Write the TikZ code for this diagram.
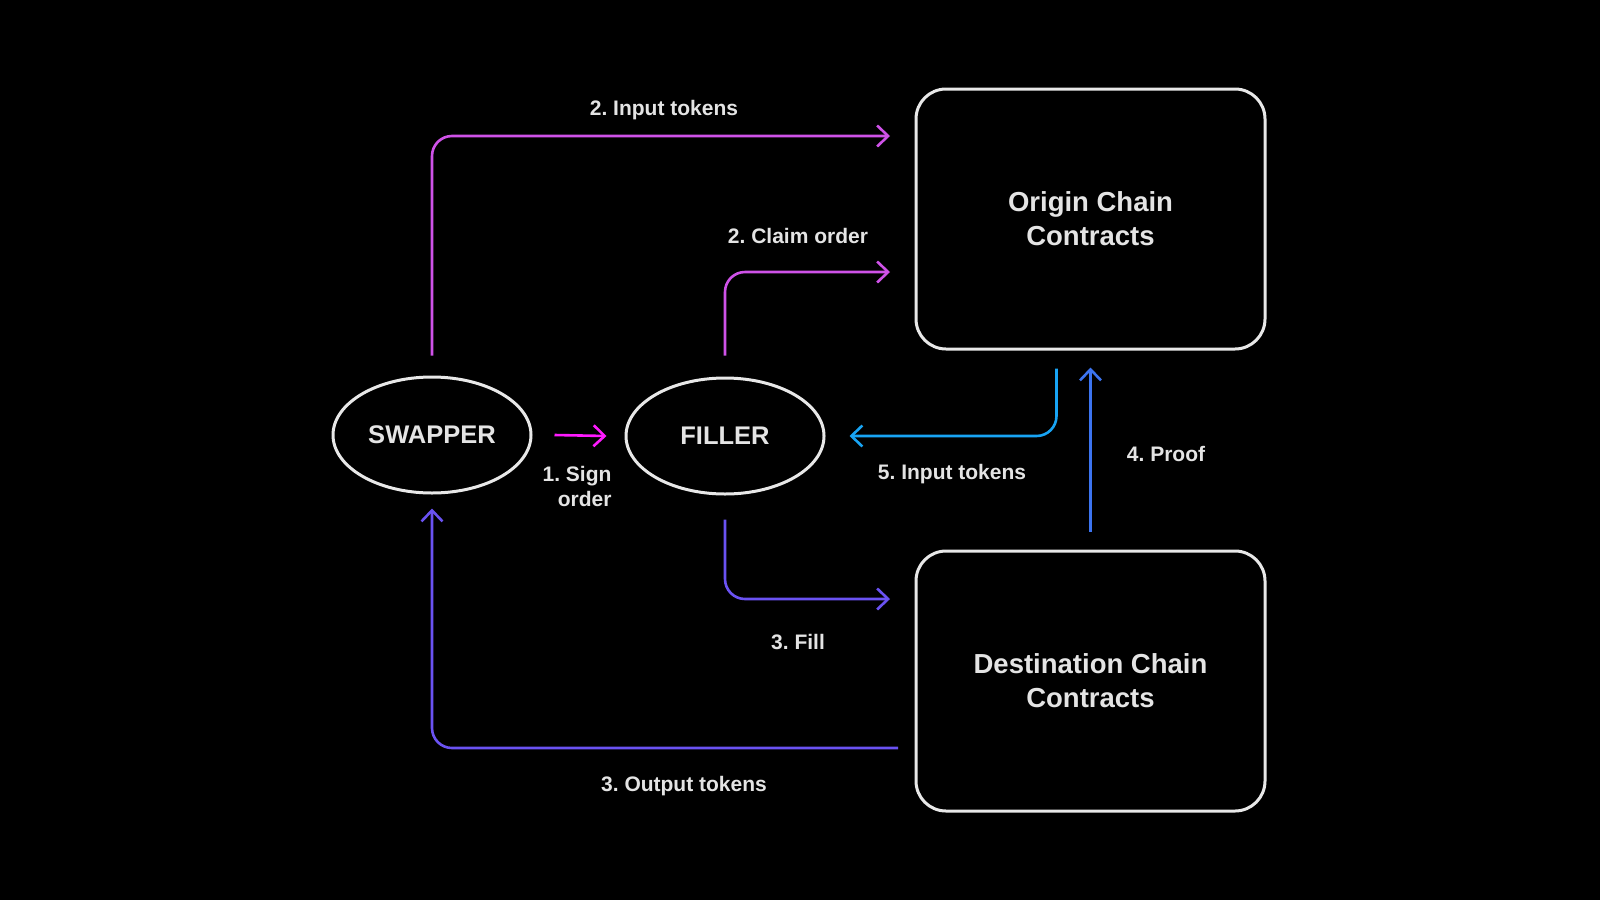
\documentclass[tikz,border=0pt]{standalone}
\usepackage{fontspec}
\setmainfont{Liberation Sans}
\usetikzlibrary{arrows.meta,shapes.geometric}
\definecolor{txtgrey}{HTML}{E4E4E4}
\definecolor{rim}{HTML}{E8E8E8}
\definecolor{signpink}{HTML}{FF1AFF}
\definecolor{orchid}{HTML}{CF52E8}
\definecolor{skyblue}{HTML}{18A4F4}
\definecolor{proofblue}{HTML}{3C74F0}
\definecolor{violet}{HTML}{6A52F2}
\frenchspacing

\begin{document}
\begin{tikzpicture}[x=1pt,y=-1pt,
  oval/.style={ellipse, draw=rim, line width=3pt, minimum width=198pt, minimum height=116pt,
    text=txtgrey, font=\fontsize{25.5}{30}\selectfont\bfseries},
  chainbox/.style={draw=rim, line width=3pt, rounded corners=30pt, minimum width=349pt,
    minimum height=260pt, align=center, text=txtgrey, font=\fontsize{27.5}{34}\selectfont\bfseries},
  lbl/.style={text=txtgrey, font=\fontsize{21}{25}\selectfont\bfseries},
  flow/.style={line width=2.6pt, rounded corners=20pt, -{Straight Barb[length=11pt,width=21pt]}}]

  \fill[black] (0,0) rectangle (1600,900);

  \node[oval] (swapper) at (432,435) {SWAPPER};
  \node[oval] (filler) at (725,436) {FILLER};
  \node[chainbox] (origin) at (1090.5,219) {Origin Chain\\Contracts};
  \node[chainbox] (dest) at (1090.5,681) {Destination Chain\\Contracts};

  \coordinate (in2) at (890,136);
  \coordinate (cl2) at (890,272);
  \coordinate (fl3) at (890,599);
  \coordinate (op3) at (898,748);

  % 1. sign
  \draw[flow, signpink] ([xshift=22pt]swapper.east) -- ([xshift=-18pt]filler.west);
  \node[lbl, align=right, anchor=east] (lsign) at (615,486) {1. Sign\\order};

  % 2. input tokens / claim order
  \draw[flow, orchid] ([yshift=20pt]swapper.north) |- (in2);
  \node[lbl] (lin2) at (664,110) {2. Input tokens};
  \draw[flow, orchid] ([yshift=21pt]filler.north) |- (cl2);
  \node[lbl] (lcl2) at (798,236) {2. Claim order};

  % 3. fill / output tokens
  \draw[flow, violet] ([yshift=-24pt]filler.south) |- (fl3);
  \node[lbl] (lfl3) at (798,642) {3. Fill};
  \draw[flow, violet] (op3) -| ([yshift=-14pt]swapper.south);
  \node[lbl] (lop3) at (684,786) {3. Output tokens};

  % 4. proof
  \draw[flow, proofblue] ([yshift=18pt]dest.north) -- ([yshift=-17pt]origin.south);
  \node[lbl] (lpf4) at (1166,454) {4. Proof};

  % 5. input tokens
  \draw[flow, skyblue] ([xshift=-34pt,yshift=-18pt]origin.south) |- ([xshift=24pt]filler.east);
  \node[lbl] (lin5) at (952,474) {5. Input tokens};
\end{tikzpicture}
\end{document}
